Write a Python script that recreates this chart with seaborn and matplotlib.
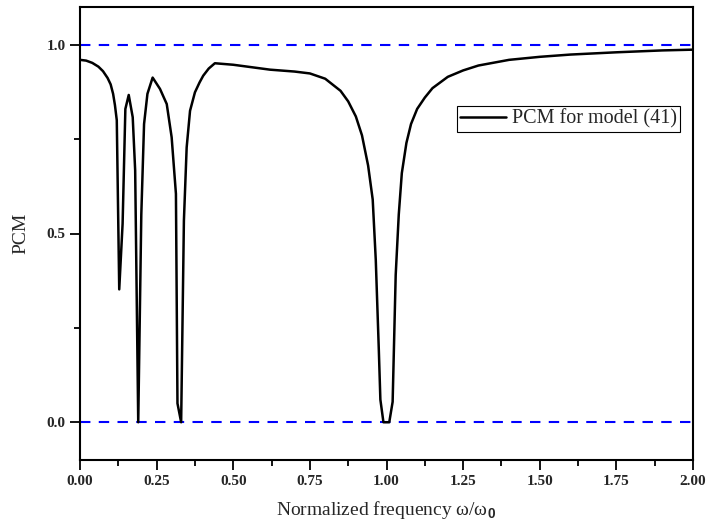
import matplotlib
matplotlib.use("Agg")
import matplotlib.pyplot as plt
import seaborn as sns
import pandas as pd
from matplotlib.ticker import MultipleLocator, FormatStrFormatter

# ---- data ----
freq = [0.0, 0.02, 0.04, 0.06, 0.075, 0.09, 0.1, 0.108, 0.114, 0.12,
        0.128, 0.139, 0.148, 0.159, 0.172, 0.18, 0.19, 0.2, 0.209, 0.22,
        0.237, 0.261, 0.283, 0.299, 0.313, 0.318, 0.33, 0.339, 0.348, 0.359,
        0.375, 0.39, 0.402, 0.42, 0.44, 0.5, 0.62, 0.7, 0.75, 0.8,
        0.85, 0.875, 0.9, 0.92, 0.94, 0.955, 0.965, 0.975, 0.98, 0.99,
        1.009, 1.02, 1.03, 1.04, 1.05, 1.065, 1.08, 1.1, 1.125, 1.15,
        1.2, 1.25, 1.3, 1.4, 1.5, 1.6, 1.75, 1.9, 2.0]
pcm = [0.960, 0.958, 0.952, 0.942, 0.930, 0.912, 0.895, 0.870, 0.840, 0.80,
       0.352, 0.526, 0.83, 0.867, 0.808, 0.667, 0.0, 0.55, 0.79, 0.87,
       0.913, 0.883, 0.843, 0.755, 0.605, 0.05, 0.0, 0.534, 0.728, 0.825,
       0.874, 0.900, 0.918, 0.937, 0.951, 0.947, 0.934, 0.929, 0.924, 0.910,
       0.878, 0.850, 0.810, 0.760, 0.680, 0.590, 0.430, 0.190, 0.06, 0.0,
       0.0, 0.054, 0.39, 0.55, 0.66, 0.74, 0.79, 0.83, 0.86, 0.885,
       0.915, 0.932, 0.945, 0.960, 0.968, 0.974, 0.980, 0.985, 0.987]
ref_levels = [0.0, 1.0]
series_label = "PCM for model (41)"
x_label = r"Normalized frequency ω/ω$_{\mathbf{0}}$"
y_label = "PCM"

df = pd.DataFrame({"freq": freq, "pcm": pcm})

sns.set_style("ticks")
plt.rcParams["font.family"] = ["Liberation Serif", "DejaVu Serif"]
plt.rcParams["mathtext.fontset"] = "custom"
plt.rcParams["mathtext.rm"] = "Liberation Serif"
plt.rcParams["mathtext.bf"] = "Liberation Sans:bold"

fig = plt.figure(figsize=(7.06, 5.32), dpi=100)
ax = fig.add_axes([80/706, 72/532, 613/706, 453/532])

for lv in ref_levels:
    ax.axhline(lv, color="#0000ff", lw=1.5, ls=(0, (5, 4)), zorder=1)

sns.lineplot(data=df, x="freq", y="pcm", ax=ax, color="black", lw=1.8,
             label=series_label, sort=False, zorder=3)

ax.set_xlim(0, 2)
ax.set_ylim(-0.1, 1.1)
ax.xaxis.set_major_locator(MultipleLocator(0.25))
ax.xaxis.set_minor_locator(MultipleLocator(0.125))
ax.yaxis.set_major_locator(MultipleLocator(0.5))
ax.yaxis.set_minor_locator(MultipleLocator(0.25))
ax.xaxis.set_major_formatter(FormatStrFormatter("%.2f"))
ax.yaxis.set_major_formatter(FormatStrFormatter("%.1f"))
ax.tick_params(which="major", direction="out", length=7, width=1.3,
               labelsize=11, color="black")
ax.tick_params(which="minor", direction="out", length=4, width=1.3, color="black")
for lab in ax.get_xticklabels() + ax.get_yticklabels():
    lab.set_fontweight("bold")
for sp in ax.spines.values():
    sp.set_visible(True)
    sp.set_linewidth(1.5)
    sp.set_color("black")

ax.set_xlabel(x_label, fontsize=14, labelpad=8)
ax.set_ylabel(y_label, fontsize=14, labelpad=12)

leg = ax.legend(loc="upper right", bbox_to_anchor=(0.979, 0.781),
                borderaxespad=0, fontsize=14.5, frameon=True, fancybox=False,
                edgecolor="black", framealpha=1, handlelength=2.3,
                handletextpad=0.3, borderpad=0.15)
leg.get_frame().set_linewidth(0.8)

fig.savefig("out.png", dpi=100)
